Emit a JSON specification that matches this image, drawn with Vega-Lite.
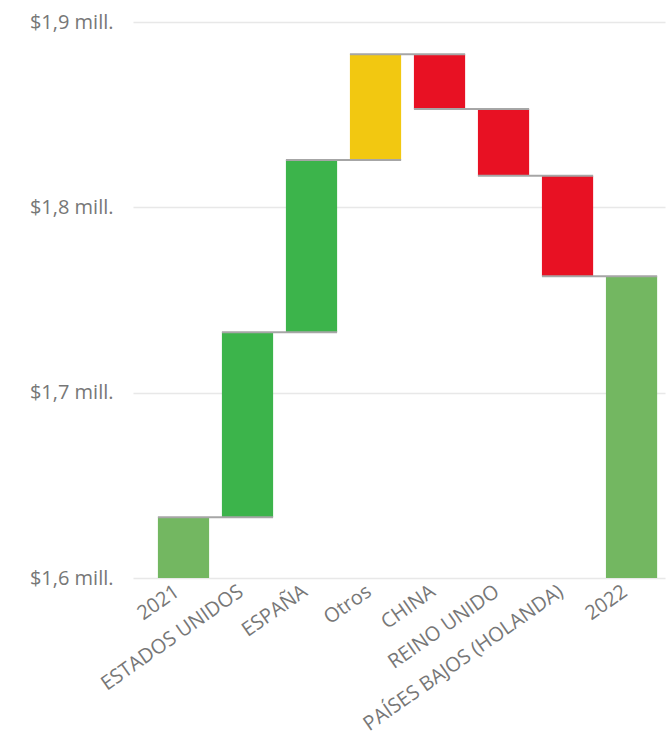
{
  "$schema": "https://vega.github.io/schema/vega-lite/v6.json",
  "autosize": {"type": "none"},
  "padding": {"left": 133, "top": 22, "right": 2, "bottom": 157},
  "width": 532,
  "height": 556,
  "background": "white",
  "data": {
    "values": [
      {"cat": "2021", "start": 1600000, "end": 1632800, "tipo": "total", "next": "ESTADOS UNIDOS"},
      {"cat": "ESTADOS UNIDOS", "start": 1632800, "end": 1732600, "tipo": "aumento", "next": "ESPAÑA"},
      {"cat": "ESPAÑA", "start": 1732600, "end": 1825500, "tipo": "aumento", "next": "Otros"},
      {"cat": "Otros", "start": 1825500, "end": 1882600, "tipo": "otros", "next": "CHINA"},
      {"cat": "CHINA", "start": 1882600, "end": 1853000, "tipo": "disminución", "next": "REINO UNIDO"},
      {"cat": "REINO UNIDO", "start": 1853000, "end": 1817000, "tipo": "disminución", "next": "PAÍSES BAJOS (HOLANDA)"},
      {"cat": "PAÍSES BAJOS (HOLANDA)", "start": 1817000, "end": 1762800, "tipo": "disminución", "next": "2022"},
      {"cat": "2022", "start": 1600000, "end": 1762800, "tipo": "total", "next": null}
    ]
  },
  "config": {
    "view": {"stroke": null},
    "font": "Open Sans",
    "axis": {
      "labelFont": "Open Sans",
      "labelColor": "#777777",
      "domain": false,
      "ticks": false,
      "title": null
    }
  },
  "encoding": {
    "x": {
      "field": "cat",
      "type": "nominal",
      "sort": null,
      "scale": {"paddingInner": 0.2, "paddingOuter": 0.256, "align": 0.76},
      "axis": {
        "labelAngle": -35,
        "labelFontSize": 20,
        "labelPadding": 3,
        "labelOffset": -12,
        "grid": false,
        "labelOverlap": false,
        "labelLimit": 400
      }
    }
  },
  "layer": [
    {
      "mark": {"type": "bar"},
      "encoding": {
        "y": {
          "field": "end",
          "type": "quantitative",
          "scale": {"domain": [1600000, 1900000], "nice": false, "zero": false},
          "axis": {
            "values": [1600000, 1700000, 1800000, 1900000],
            "labelExpr": "'$' + replace(format(datum.value / 1000000, '.1f'), '.', ',') + ' mill.'",
            "labelFontSize": 20,
            "labelPadding": 20,
            "grid": true,
            "gridColor": "#e8e8e8",
            "gridWidth": 1.5
          }
        },
        "y2": {"field": "start"},
        "color": {
          "field": "tipo",
          "type": "nominal",
          "scale": {
            "domain": ["total", "aumento", "otros", "disminución"],
            "range": ["#73B761", "#3CB44B", "#F2C811", "#E81123"]
          },
          "legend": null
        }
      }
    },
    {
      "transform": [{"filter": "datum.next != null"}],
      "mark": {"type": "rule", "color": "#a6a6a6", "strokeWidth": 2},
      "encoding": {
        "x": {"field": "cat", "type": "nominal", "sort": null, "bandPosition": 0},
        "x2": {"field": "next", "bandPosition": 1},
        "y": {"field": "end", "type": "quantitative"}
      }
    }
  ]
}
